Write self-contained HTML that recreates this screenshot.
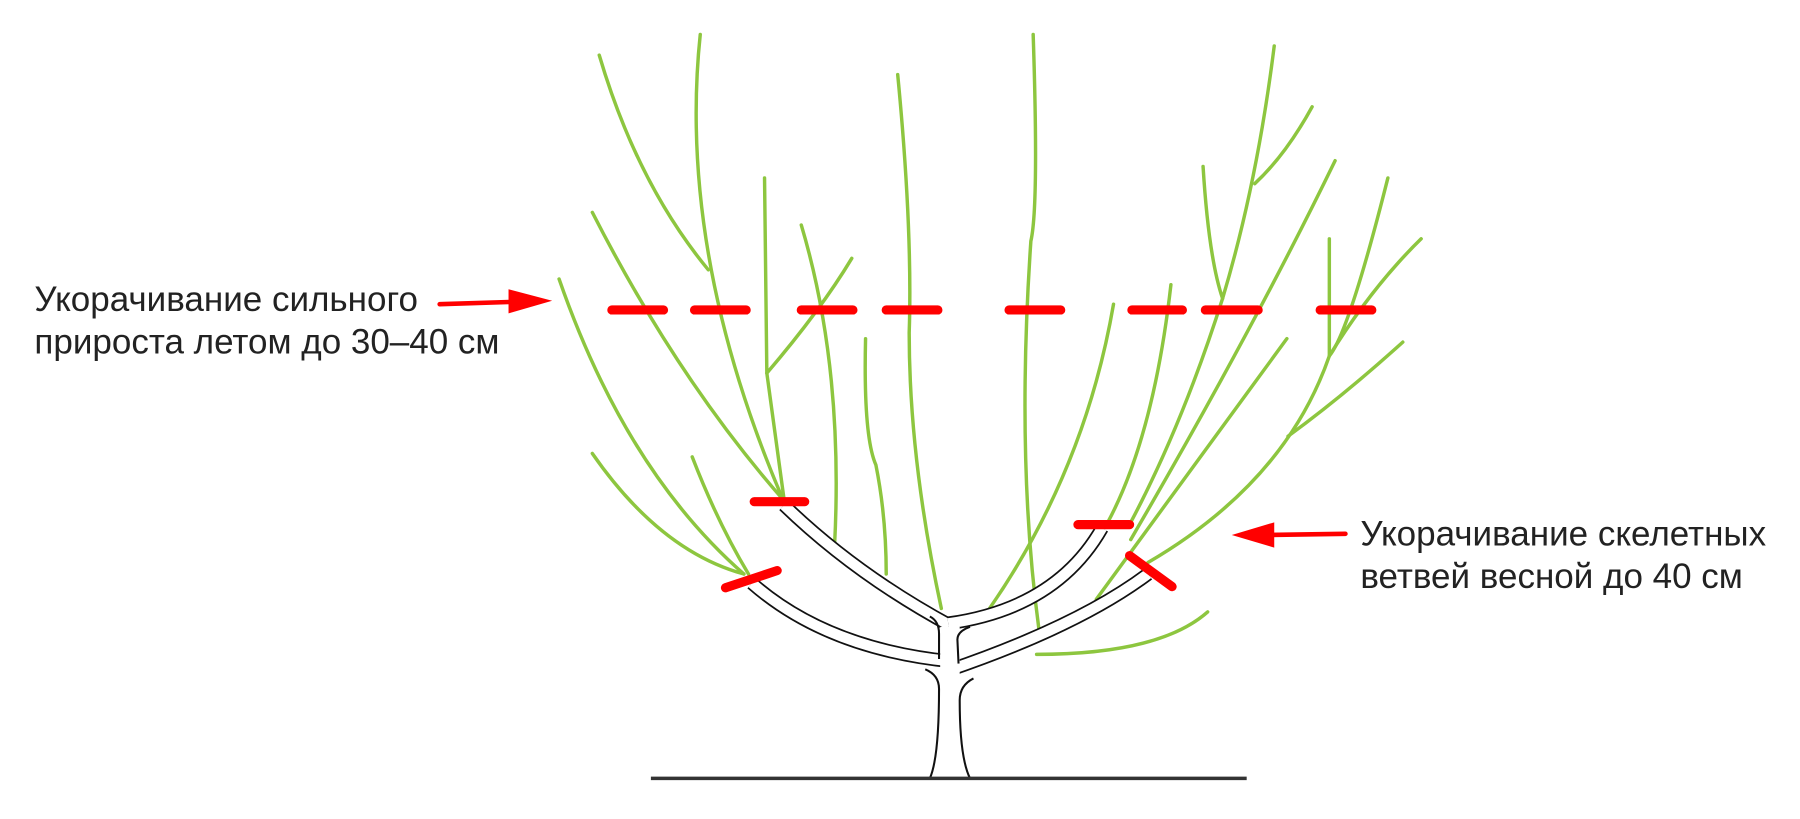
<!DOCTYPE html>
<html><head><meta charset="utf-8"><style>
html,body{margin:0;padding:0;background:#fff;}
svg{display:block}
</style></head><body>
<svg width="1800" height="819" viewBox="0 0 1568 713.4" preserveAspectRatio="none" xmlns="http://www.w3.org/2000/svg">
<rect width="1568" height="714" fill="#fff"/>
<g fill="none" stroke="#8dc63f" stroke-width="3" stroke-linecap="round">
<path d="M487,243 Q545,410 648,500"/>
<path d="M516,395 Q575,480 648,500"/>
<path d="M603,398 Q625,455 652,500"/>
<path d="M516,185 Q590,330 682,435"/>
<path d="M522,48 Q555,160 617,235"/>
<path d="M610,30 Q590,220 682,435"/>
<path d="M666,155 L668,325 L683,435"/>
<path d="M668,325 Q715,270 742,225"/>
<path d="M698,196 Q735,320 727,475"/>
<path d="M754,295 Q752,380 763,405 Q772,450 772,500"/>
<path d="M782,65 Q795,200 792,290 Q792,400 820,530"/>
<path d="M900,30 Q905,180 898,210 Q885,400 905,548"/>
<path d="M970,265 Q945,410 862,530"/>
<path d="M1020,248 Q1005,380 965,455"/>
<path d="M1110,40 Q1095,160 1065,260 Q1030,370 985,455"/>
<path d="M1048,145 Q1053,225 1065,260"/>
<path d="M1143,93 Q1120,135 1093,160"/>
<path d="M1163,140 Q1090,290 985,470"/>
<path d="M1209,155 Q1175,290 1158,310 Q1120,420 1000,490"/>
<path d="M1238,208 Q1195,250 1158,310"/>
<path d="M1158,208 L1158,310"/>
<path d="M1222,298 Q1170,345 1122,380"/>
<path d="M1121,295 Q1030,420 955,522"/>
<path d="M903,570 Q1010,570 1052,533"/>
</g>
<g fill="none" stroke-linecap="butt">
<path d="M828,576 Q720,565 655,508" stroke="#111" stroke-width="12"/>
<path d="M828,576 Q720,565 655,508" stroke="#fff" stroke-width="9"/>
<path d="M828,545 Q745,500 683,440" stroke="#111" stroke-width="12"/>
<path d="M828,545 Q745,500 683,440" stroke="#fff" stroke-width="9"/>
<path d="M826,543 Q920,530 960,460" stroke="#111" stroke-width="12"/>
<path d="M826,543 Q920,530 960,460" stroke="#fff" stroke-width="9"/>
<path d="M826,584 Q940,545 1000,500" stroke="#111" stroke-width="12"/>
<path d="M826,584 Q940,545 1000,500" stroke="#fff" stroke-width="9"/>
</g>
<path d="M812,678 Q819,650 819,600 L819,546 L836,546 L836,600 Q836,650 844,678 Z" fill="#fff"/>
<path d="M810,678 Q818,660 818,600 Q818,588 806,583" fill="none" stroke="#111" stroke-width="1.8"/>
<path d="M845,678 Q836,660 836,610 Q836,597 848,591" fill="none" stroke="#111" stroke-width="1.8"/>
<path d="M818,574 L818,552 Q818,541 810,537" fill="none" stroke="#111" stroke-width="1.8"/>
<path d="M835,578 L834,557 Q834,550 845,546" fill="none" stroke="#111" stroke-width="1.8"/>
<line x1="567" y1="678" x2="1086" y2="678" stroke="#333" stroke-width="3"/>
<g stroke="#f00" stroke-width="8" stroke-linecap="round" fill="none">
<path d="M533,270H578M605,270H650M698,270H743M772,270H817M879,270H924M986,270H1030M1050,270H1096M1150,270H1195"/>
<path d="M657,437H701M939,457H984"/>
<path d="M632,512L677,497M984,484L1021,511"/>
<path d="M383,265L445,263M1172,465L1105,466" stroke-width="4"/>
</g>
<path d="M443,252 L481,262 L443,273 Z" fill="#f00"/>
<path d="M1110,455 L1073,466 L1110,477 Z" fill="#f00"/>
<g font-family="Liberation Sans, sans-serif" font-size="30.5" fill="#222">
<text x="30" y="271">Укорачивание сильного</text>
<text x="30" y="308">прироста летом до 30–40 см</text>
<text x="1185" y="475">Укорачивание скелетных</text>
<text x="1185" y="512">ветвей весной до 40 см</text>
</g>
</svg>
</body></html>
